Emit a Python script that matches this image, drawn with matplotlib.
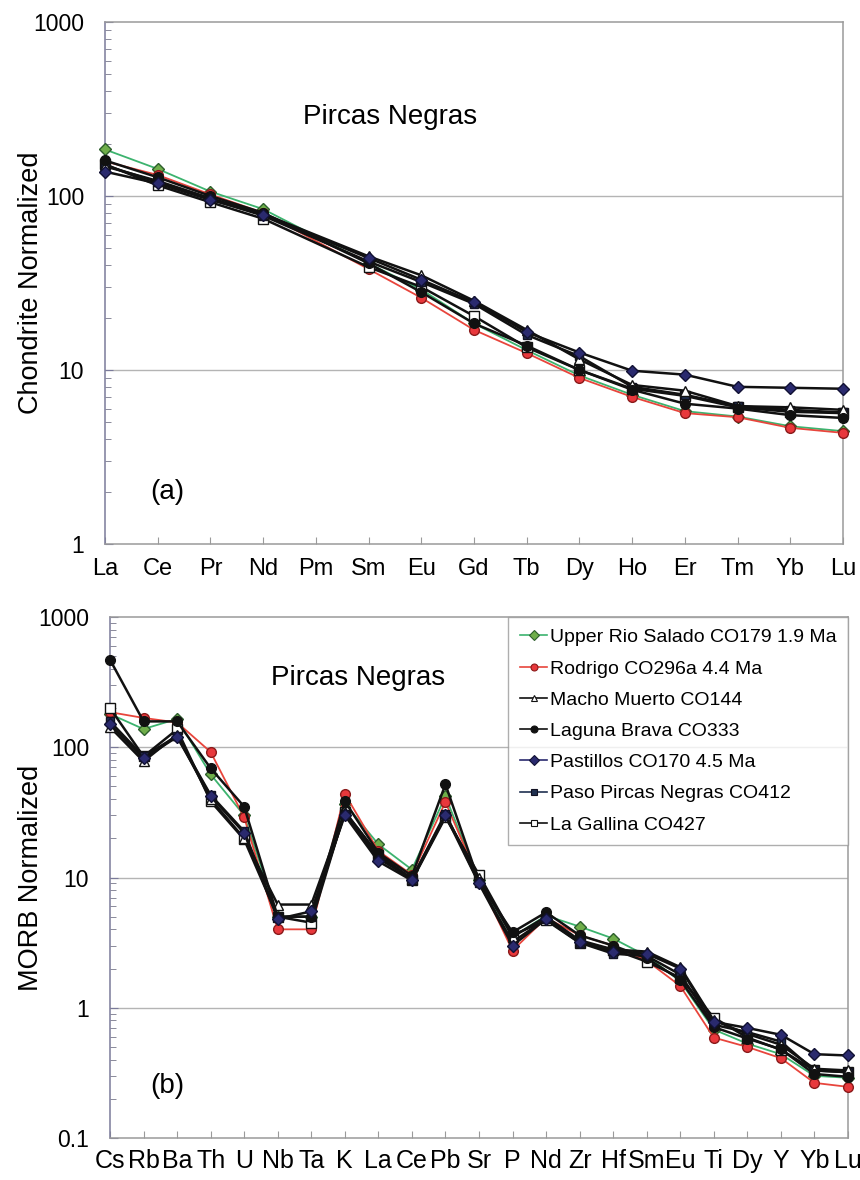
import numpy as np
import matplotlib
matplotlib.use("Agg")
import matplotlib.pyplot as plt
from matplotlib.ticker import FixedLocator, FixedFormatter, LogLocator, NullFormatter

plt.rcParams['font.family'] = ['Liberation Sans', 'DejaVu Sans']

# ---------------- data ----------------
ree_elements = ["La", "Ce", "Pr", "Nd", "Pm", "Sm", "Eu", "Gd", "Tb", "Dy",
                "Ho", "Er", "Tm", "Yb", "Lu"]
spider_elements = ["Cs", "Rb", "Ba", "Th", "U", "Nb", "Ta", "K", "La", "Ce",
                   "Pb", "Sr", "P", "Nd", "Zr", "Hf", "Sm", "Eu", "Ti", "Dy",
                   "Y", "Yb", "Lu"]

sample_names = ["Upper Rio Salado CO179 1.9 Ma", "Rodrigo CO296a 4.4 Ma",
                "Macho Muerto CO144", "Laguna Brava CO333",
                "Pastillos CO170 4.5 Ma", "Paso Pircas Negras CO412",
                "La Gallina CO427"]

# chondrite-normalized REE (Pm not analysed)
ree_upper_rio_salado = [185, 143, 106, 84, None, 41, 29, 18.5, 13.0, 9.3, 7.2, 5.8, 5.4, 4.75, 4.45]
ree_rodrigo = [158, 132, 102, 80, None, 38, 26, 17.0, 12.5, 9.0, 7.0, 5.65, 5.35, 4.65, 4.35]
ree_macho_muerto = [148, 122, 97, 79, None, 45, 35, 25.0, 17.0, 11.5, 8.2, 7.6, 6.2, 6.1, 5.9]
ree_laguna_brava = [160, 128, 100, 80, None, 41, 28, 18.5, 13.8, 10.0, 7.7, 6.4, 6.0, 5.5, 5.3]
ree_pastillos = [138, 118, 95, 78, None, 44, 33, 24.5, 16.5, 12.6, 9.9, 9.4, 8.0, 7.9, 7.8]
ree_paso_pircas = [150, 120, 96, 77, None, 42, 32, 24.0, 15.9, 12.0, 8.0, 7.2, 6.2, 5.9, 5.7]
ree_la_gallina = [152, 115, 92, 74, None, 39, 30, 20.4, 13.5, 10.0, 7.8, 7.1, 6.1, 5.75, 5.65]

# MORB-normalized trace elements
tr_upper_rio_salado = [180, 138, 165, 62, 30, 5.0, 5.0, 37, 18.0, 11.5, 42, 9.5, 3.5, 5.1,
                       4.2, 3.4, 2.5, 1.6, 0.68, 0.53, 0.44, 0.30, 0.29]
tr_rodrigo = [186, 168, 155, 92, 29, 4.0, 4.0, 44, 16.0, 10.5, 38, 9.5, 2.75, 4.9,
              3.6, 3.0, 2.3, 1.47, 0.59, 0.50, 0.41, 0.265, 0.247]
tr_macho_muerto = [143, 78, 125, 40, 20, 6.2, 6.2, 32, 15.0, 9.8, 30, 10.0, 3.5, 5.0,
                   3.3, 2.8, 2.7, 2.05, 0.80, 0.63, 0.52, 0.34, 0.33]
tr_laguna_brava = [470, 158, 158, 69, 35, 5.0, 5.0, 38.5, 15.5, 10.3, 52, 9.3, 3.8, 5.4,
                   3.6, 3.0, 2.4, 1.64, 0.71, 0.58, 0.48, 0.31, 0.295]
tr_pastillos = [150, 82, 120, 42, 22, 4.8, 5.5, 30, 13.3, 9.5, 30, 9.0, 3.0, 4.8,
                3.2, 2.7, 2.6, 2.0, 0.78, 0.70, 0.62, 0.44, 0.43]
tr_paso_pircas = [158, 85, 122, 43, 22.6, 5.0, 5.0, 31, 14.0, 9.8, 31, 9.1, 3.2, 4.8,
                  3.16, 2.6, 2.5, 1.8, 0.74, 0.65, 0.55, 0.33, 0.32]
tr_la_gallina = [200, 85, 137, 38.5, 19.6, 5.0, 4.5, 32, 14.8, 9.5, 29, 10.5, 3.6, 4.7,
                 3.15, 2.8, 2.26, 1.7, 0.84, 0.59, 0.476, 0.33, 0.32]

ree_series = [ree_upper_rio_salado, ree_rodrigo, ree_macho_muerto, ree_laguna_brava,
              ree_pastillos, ree_paso_pircas, ree_la_gallina]
trace_series = [tr_upper_rio_salado, tr_rodrigo, tr_macho_muerto, tr_laguna_brava,
                tr_pastillos, tr_paso_pircas, tr_la_gallina]

# ---------------- styles ----------------
styles = [
    dict(color="#3cb36e", marker="D", mfc="#6fae4a", mec="#2d5e2d", lw=1.3, ms=6.5),
    dict(color="#e8453c", marker="o", mfc="#e8383c", mec="#8a1a1a", lw=1.3, ms=7),
    dict(color="#111111", marker="^", mfc="white", mec="#111111", lw=1.8, ms=7),
    dict(color="#111111", marker="o", mfc="#111111", mec="#111111", lw=1.8, ms=7),
    dict(color="#111111", marker="D", mfc="#2a2a6e", mec="#111133", lw=1.8, ms=6),
    dict(color="#111111", marker="s", mfc="#1f3050", mec="#111122", lw=1.8, ms=6),
    dict(color="#111111", marker="s", mfc="white", mec="#111111", lw=1.8, ms=6.5),
]
legend_line_colors = ["#3cb36e", "#e8453c", "#111111", "#111111", "#2a2a6e", "#1f3050", "#111111"]
draw_order = [0, 1, 6, 5, 2, 3, 4]

fig = plt.figure(figsize=(8.6, 11.8), dpi=100)
ax1 = fig.add_axes([0.1221, 0.539, 0.8581, 0.4424])
ax2 = fig.add_axes([0.1279, 0.0356, 0.8581, 0.4415])

spine_gray = "#9a9a9a"


def style_axes(ax, ymin, ymax, labels, xfont):
    ax.set_yscale("log")
    ax.set_ylim(ymin, ymax)
    ax.set_xlim(0, len(labels) - 1)
    ax.set_xticks(range(len(labels)))
    ax.set_xticklabels(labels, **xfont)
    decades = [10.0 ** k for k in range(int(np.log10(ymin)), int(np.log10(ymax)) + 1)]
    ax.yaxis.set_major_locator(FixedLocator(decades))
    ax.yaxis.set_major_formatter(FixedFormatter([("%g" % d) for d in decades]))
    ax.yaxis.set_minor_locator(LogLocator(base=10, subs=np.arange(2, 10)))
    ax.yaxis.set_minor_formatter(NullFormatter())
    ax.tick_params(axis="y", which="major", direction="in", length=6, width=0.8,
                   color="#7a7a9a", labelsize=16.5, pad=15)
    ax.tick_params(axis="y", which="minor", direction="in", length=4, width=0.7,
                   color="#8a8a9a")
    ax.tick_params(axis="x", direction="in", length=5, width=0.8, color=spine_gray,
                   pad=10)
    for d in decades[1:-1]:
        ax.axhline(d, color="#b4b4b4", lw=1.0, zorder=0)
    for side in ["top", "right", "bottom"]:
        ax.spines[side].set_color(spine_gray)
        ax.spines[side].set_linewidth(1.1)
    ax.spines["left"].set_color("#7a7a9a")
    ax.spines["left"].set_linewidth(1.1)


# ---------------- (a) REE ----------------
style_axes(ax1, 1, 1000, ree_elements, dict(fontsize=17))
for i in draw_order:
    vals = ree_series[i]
    xs = [k for k, v in enumerate(vals) if v is not None]
    ys = [v for v in vals if v is not None]
    st = styles[i]
    ax1.plot(xs, ys, color=st["color"], lw=st["lw"], marker=st["marker"],
             mfc=st["mfc"], mec=st["mec"], ms=st["ms"], mew=1.0, clip_on=False,
             zorder=3)
ax1.set_ylabel("Chondrite Normalized", fontsize=19.5)
ax1.yaxis.set_label_coords(-0.082, 0.5)
ax1.text(0.386, 0.818, "Pircas Negras", transform=ax1.transAxes, fontsize=20,
         ha="center", va="center")
ax1.text(0.061, 0.10, "(a)", transform=ax1.transAxes, fontsize=20,
         ha="left", va="center")

# ---------------- (b) spider diagram ----------------
style_axes(ax2, 0.1, 1000, spider_elements,
           dict(fontsize=18, family=["Liberation Sans Narrow", "Liberation Sans"]))
ax2.tick_params(axis="x", pad=8)
handles = [None] * len(sample_names)
for i in draw_order:
    st = styles[i]
    ax2.plot(range(len(spider_elements)), trace_series[i], color=st["color"],
             lw=st["lw"], marker=st["marker"], mfc=st["mfc"], mec=st["mec"],
             ms=st["ms"], mew=1.0, clip_on=False, zorder=3)
for i in range(len(sample_names)):
    st = styles[i]
    h, = ax2.plot([], [], color=legend_line_colors[i], lw=1.2, marker=st["marker"],
                  mfc=st["mfc"], mec=st["mec"], ms=5, mew=0.8,
                  label=sample_names[i])
    handles[i] = h
leg = ax2.legend(handles=handles, loc="upper right", bbox_to_anchor=(1.0, 1.0),
                 fontsize=14, frameon=True, fancybox=False, handlelength=1.4,
                 handletextpad=0.12, labelspacing=0.7, borderpad=0.6,
                 borderaxespad=0.0)
leg.get_frame().set_edgecolor("#9a9a9a")
leg.get_frame().set_linewidth(1.0)
ax2.set_ylabel("MORB Normalized", fontsize=19.5)
ax2.yaxis.set_label_coords(-0.09, 0.5)
ax2.text(0.336, 0.883, "Pircas Negras", transform=ax2.transAxes, fontsize=20,
         ha="center", va="center")
ax2.text(0.055, 0.10, "(b)", transform=ax2.transAxes, fontsize=20,
         ha="left", va="center")

fig.savefig("out.png", dpi=100, facecolor="white")
